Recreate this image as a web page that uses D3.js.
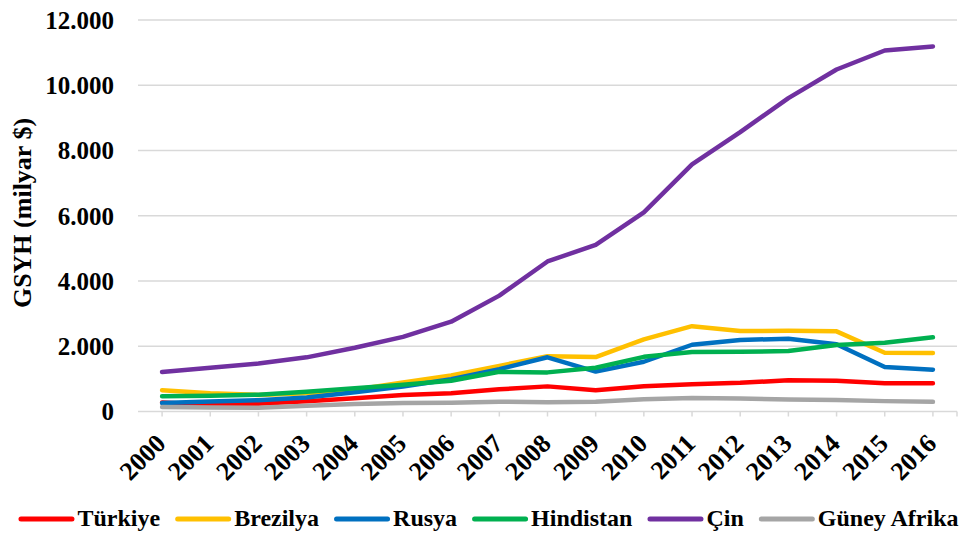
<!DOCTYPE html>
<html>
<head>
<meta charset="utf-8">
<script src="https://cdn.jsdelivr.net/npm/d3@7"></script>
<style>
    body { margin: 0; background: white; }
    text { font-family: "Liberation Serif", "Times New Roman", serif; font-weight: bold; fill: black; }
</style>
</head>
<body>
<script>
const years = [2000, 2001, 2002, 2003, 2004, 2005, 2006, 2007, 2008, 2009, 2010, 2011, 2012, 2013, 2014, 2015, 2016];
const turkiye = [273, 200, 238, 312, 408, 506, 557, 681, 770, 649, 777, 838, 880, 957, 939, 864, 863];
const brezilya = [655, 559, 509, 558, 669, 892, 1107, 1397, 1696, 1667, 2209, 2616, 2465, 2473, 2456, 1802, 1796];
const rusya = [260, 307, 345, 430, 591, 764, 990, 1300, 1661, 1223, 1525, 2046, 2192, 2231, 2064, 1366, 1283];
const hindistan = [468, 485, 515, 608, 709, 820, 940, 1217, 1199, 1342, 1676, 1823, 1828, 1857, 2039, 2104, 2274];
const cin = [1211, 1339, 1471, 1660, 1955, 2286, 2752, 3552, 4598, 5110, 6101, 7573, 8561, 9607, 10482, 11065, 11191];
const guneyAfrika = [136, 121, 116, 176, 229, 258, 272, 299, 287, 297, 375, 416, 396, 367, 351, 318, 296];
const seriesNames = ["Türkiye", "Brezilya", "Rusya", "Hindistan", "Çin", "Güney Afrika"];
const seriesColors = ["#FF0000", "#FFC000", "#0070C0", "#00B050", "#7030A0", "#A5A5A5"];
const yTicks = [0, 2000, 4000, 6000, 8000, 10000, 12000];

const series = [turkiye, brezilya, rusya, hindistan, cin, guneyAfrika].map((vals, i) => ({
    name: seriesNames[i],
    color: seriesColors[i],
    points: vals.map((v, j) => ({ year: years[j], value: v }))
}));

const wSvg = 966;
const hSvg = 536;
const xLeft = 138;
const xRight = 957;
const yBottom = 411.5;
const yTop = 20;

const svg = d3.select("body")
    .append("svg")
    .attr("width", wSvg)
    .attr("height", hSvg);

const xScale = d3.scalePoint(years, [xLeft, xRight]).padding(0.5);
const yScale = d3.scaleLinear([0, 12000], [yBottom, yTop]);

// gridlines
svg.append("g")
    .selectAll("line")
    .data(yTicks.slice(1))
    .enter()
    .append("line")
    .attr("x1", xLeft)
    .attr("x2", xRight)
    .attr("y1", d => yScale(d))
    .attr("y2", d => yScale(d))
    .attr("stroke", "#D9D9D9")
    .attr("stroke-width", 1.5);

// y labels
const fmt = d => d3.format(",")(d).replace(/,/g, ".");
svg.append("g")
    .selectAll("text")
    .data(yTicks)
    .enter()
    .append("text")
    .attr("x", 114)
    .attr("y", d => yScale(d))
    .attr("dy", "0.35em")
    .attr("text-anchor", "end")
    .style("font-size", "25px")
    .text(d => fmt(d));

// x axis
svg.append("line")
    .attr("x1", xLeft)
    .attr("x2", xRight)
    .attr("y1", yBottom)
    .attr("y2", yBottom)
    .attr("stroke", "#D9D9D9")
    .attr("stroke-width", 1.5);

svg.append("g")
    .selectAll("line")
    .data(years)
    .enter()
    .append("line")
    .attr("x1", d => xScale(d))
    .attr("x2", d => xScale(d))
    .attr("y1", yBottom)
    .attr("y2", yBottom + 5)
    .attr("stroke", "#D9D9D9")
    .attr("stroke-width", 1.5);

svg.append("line")
    .attr("x1", xRight)
    .attr("x2", xRight)
    .attr("y1", yBottom)
    .attr("y2", yBottom + 5)
    .attr("stroke", "#D9D9D9")
    .attr("stroke-width", 1.5);

svg.append("g")
    .selectAll("text")
    .data(years)
    .enter()
    .append("text")
    .attr("transform", d => `translate(${xScale(d) + 5}, 445) rotate(-45)`)
    .attr("text-anchor", "end")
    .style("font-size", "26px")
    .text(d => d);

// y title
svg.append("text")
    .attr("transform", "translate(31, 213) rotate(-90)")
    .attr("text-anchor", "middle")
    .style("font-size", "26px")
    .text("GSYH (milyar $)");

// lines
const dMaker = d3.line()
    .x(d => xScale(d.year))
    .y(d => yScale(d.value));

svg.append("g")
    .selectAll("path")
    .data(series)
    .enter()
    .append("path")
    .attr("fill", "none")
    .attr("stroke", d => d.color)
    .attr("stroke-width", 4.5)
    .attr("stroke-linecap", "round")
    .attr("stroke-linejoin", "round")
    .attr("d", d => dMaker(d.points));

// legend
const legend = svg.append("g");
let lx = 0;
series.forEach(s => {
    const item = legend.append("g").attr("transform", `translate(${lx}, 0)`);
    item.append("line")
        .attr("x1", 2.5)
        .attr("x2", 53.5)
        .attr("y1", 519)
        .attr("y2", 519)
        .attr("stroke", s.color)
        .attr("stroke-width", 5)
        .attr("stroke-linecap", "round");
    const t = item.append("text")
        .attr("x", 59)
        .attr("y", 526)
        .style("font-size", "24px")
        .text(s.name);
    lx += 59 + t.node().getComputedTextLength() + 15;
});
const legendWidth = lx - 15;
legend.attr("transform", `translate(${488.5 - legendWidth / 2}, 0)`);
</script>
</body>
</html>
